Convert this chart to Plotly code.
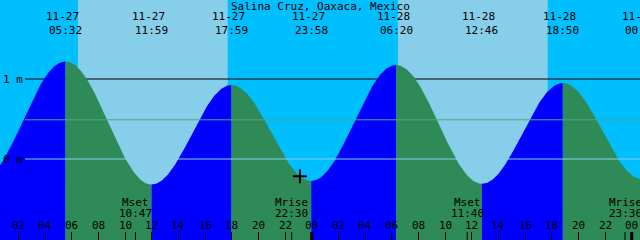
import math
import plotly.graph_objects as go

# ---------------- data ----------------
title = "Salina Cruz, Oaxaca, Mexico"
ext_dates = ["11-26", "11-27", "11-27", "11-27", "11-27", "11-28", "11-28", "11-28", "11-29"]
ext_times = ["23:06", "05:32", "11:59", "17:59", "23:58", "06:20", "12:46", "18:50", "00:46"]
ext_heights = [-0.28, 1.22, -0.32, 0.925, -0.275, 1.175, -0.31, 0.95, -0.25]

sun_rise = [("11-27", "06:28"), ("11-28", "06:28")]
sun_set = [("11-27", "17:42"), ("11-28", "17:42")]

moon_labels = ["Mset", "Mrise", "Mset", "Mrise"]
moon_dates = ["11-27", "11-27", "11-28", "11-28"]
moon_times = ["10:47", "22:30", "11:40", "23:30"]

hour_ticks = list(range(0, 49, 2))
hour_labels = ["%02d" % (h % 24) for h in hour_ticks]
midnights = [24, 48]

level_ticks = [1, 0]
level_labels = ["1 m", "0 m"]
mean_level = 0.49

now_date, now_time = "11-27", "23:07"

# ---------------- helpers ----------------
def to_hours(d, t):
    day = int(d.split("-")[1]) - 27
    hh, mm = t.split(":")
    return day * 24 + int(hh) + int(mm) / 60.0

X0, X1 = 0.6225, 48.6225
Y0, Y1 = -1.0125, 1.9875
PX_PER_HR = 640 / (X1 - X0)

NIGHT = "#00BFFF"
DAY = "#87CEEB"
RISE = "#0000FF"
FALL = "#2E8B57"
FONT = "DejaVu Sans Mono"

ext_h = [to_hours(d, t) for d, t in zip(ext_dates, ext_times)]

def curve_at(x):
    for i in range(len(ext_h) - 1):
        a, b = ext_h[i], ext_h[i + 1]
        if a <= x <= b:
            f = (x - a) / (b - a)
            ha, hb = ext_heights[i], ext_heights[i + 1]
            return ha + (hb - ha) * (1 - math.cos(math.pi * f)) / 2
    return None

fig = go.Figure()

# tide fill, one polygon per rising/falling stretch
for i in range(len(ext_h) - 1):
    a, b = ext_h[i], ext_h[i + 1]
    n = 120
    xs = [a + (b - a) * k / n for k in range(n + 1)]
    ys = [curve_at(x) for x in xs]
    colr = RISE if ext_heights[i + 1] > ext_heights[i] else FALL
    fig.add_trace(go.Scatter(
        x=xs + [b, a], y=ys + [Y0, Y0], fill="toself", fillcolor=colr,
        mode="lines", line=dict(width=0, color=colr), hoverinfo="skip",
        showlegend=False))

# now marker
nh = to_hours(now_date, now_time)
fig.add_trace(go.Scatter(
    x=[nh], y=[curve_at(nh)], mode="markers",
    marker=dict(symbol="cross-thin", size=10, line=dict(width=2, color="black")),
    showlegend=False, hoverinfo="skip"))

shapes = []
# day bands
for (rd, rt), (sd, st) in zip(sun_rise, sun_set):
    shapes.append(dict(type="rect", xref="x", yref="paper",
                       x0=to_hours(rd, rt), x1=to_hours(sd, st), y0=0, y1=1,
                       fillcolor=DAY, line=dict(width=0), layer="below"))
# 1 m line (behind the tide)
shapes.append(dict(type="line", xref="paper", yref="y", x0=25 / 640, x1=1,
                   y0=level_ticks[0], y1=level_ticks[0],
                   line=dict(color="black", width=1), layer="below"))
# mean and 0 m lines (over the tide)
shapes.append(dict(type="line", xref="paper", yref="y", x0=25 / 640, x1=1,
                   y0=mean_level, y1=mean_level,
                   line=dict(color="rgb(80,165,130)", width=1), layer="above"))
shapes.append(dict(type="line", xref="paper", yref="y", x0=25 / 640, x1=1,
                   y0=level_ticks[1], y1=level_ticks[1],
                   line=dict(color=DAY, width=1), layer="above"))
# midnight thick ticks
for m in midnights:
    shapes.append(dict(type="line", xref="x", yref="paper", x0=m, x1=m,
                       y0=0, y1=8 / 240, line=dict(color="black", width=3),
                       layer="above"))
# moon ticks
for d, t in zip(moon_dates, moon_times):
    h = to_hours(d, t)
    shapes.append(dict(type="line", xref="x", yref="paper", x0=h, x1=h,
                       y0=0, y1=8 / 240, line=dict(color="black", width=1),
                       layer="above"))

ann = []
fnt = dict(family=FONT, size=11, color="black")

def clamp_ann(h, y, text, xshift=0, **kw):
    xs = xshift
    xx = h
    if h > X1:
        xs += (h - X1) * PX_PER_HR
        xx = X1
    if h < X0:
        xs += (h - X0) * PX_PER_HR
        xx = X0
    ann.append(dict(x=xx, y=y, xref="x", yref="paper", text=text, showarrow=False,
                    xanchor="center", yanchor="middle", xshift=xs, font=fnt, **kw))

ann.append(dict(x=0.5, y=1 - 6 / 240, xref="paper", yref="paper", text=title,
                showarrow=False, xanchor="center", yanchor="middle", font=fnt))

for d, t, h in zip(ext_dates, ext_times, ext_h):
    if h < X0 - 1:
        continue
    clamp_ann(h, 1 - 17 / 240, d, xshift=-3)
    clamp_ann(h, 1 - 30 / 240, t)

for lab, d, t in zip(moon_labels, moon_dates, moon_times):
    h = to_hours(d, t)
    clamp_ann(h, (240 - 202) / 240, lab)
    clamp_ann(h, (240 - 213) / 240, t)

for h, lab in zip(hour_ticks, hour_labels):
    if h < X0 - 0.5:
        continue
    clamp_ann(h, (240 - 225.5) / 240, lab)

for v, lab in zip(level_ticks, level_labels):
    ann.append(dict(x=0, y=v, xref="paper", yref="y", text=lab, showarrow=False,
                    xanchor="left", yanchor="middle", xshift=1, font=fnt))

fig.update_layout(
    width=640, height=240, autosize=False,
    margin=dict(l=0, r=0, t=0, b=0, pad=0),
    paper_bgcolor=NIGHT, plot_bgcolor=NIGHT,
    shapes=shapes, annotations=ann, showlegend=False,
    xaxis=dict(range=[X0, X1], showgrid=False, zeroline=False, showline=False,
               tickmode="array", tickvals=hour_ticks, ticks="inside", ticklen=8,
               tickcolor="black", tickwidth=1, showticklabels=False, fixedrange=True),
    yaxis=dict(range=[Y0, Y1], showgrid=False, zeroline=False, showline=False,
               showticklabels=False, ticks="", fixedrange=True),
)

fig.write_html("out.html")
